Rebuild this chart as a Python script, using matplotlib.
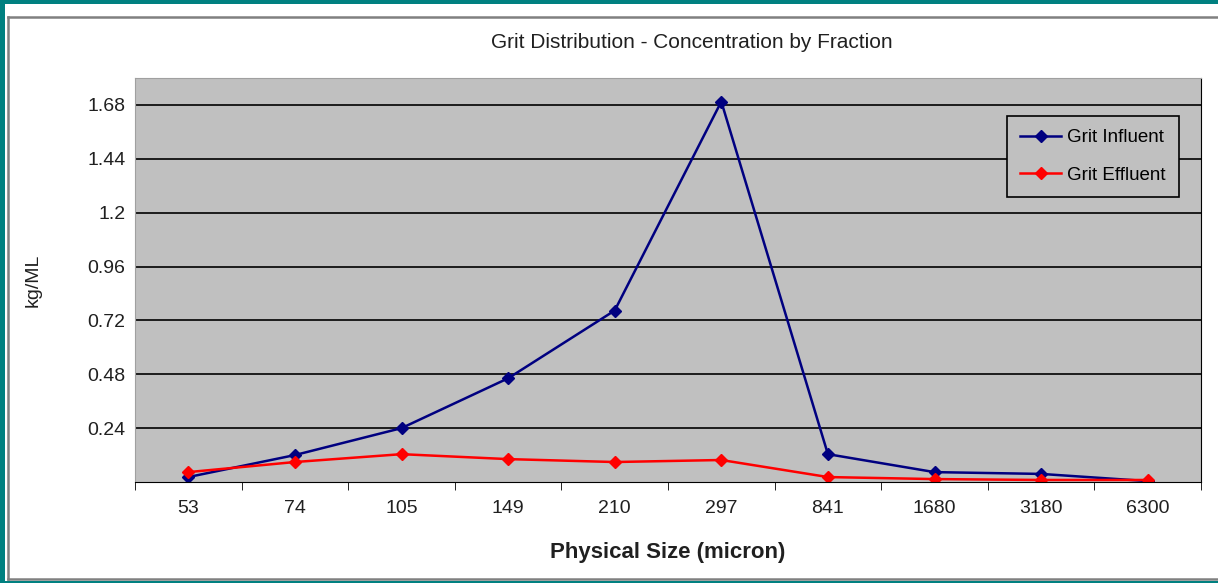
import matplotlib
matplotlib.use("Agg")
import matplotlib.pyplot as plt
import matplotlib.patches as patches
from matplotlib.lines import Line2D

plt.rcParams['font.family'] = ['Liberation Sans', 'DejaVu Sans']

# Veriler
sizes = ["53", "74", "105", "149", "210", "297", "841", "1680", "3180", "6300"]
influent = [0.022, 0.12, 0.24, 0.462, 0.764, 1.695, 0.124, 0.044, 0.036, 0.004]
effluent = [0.044, 0.089, 0.124, 0.102, 0.089, 0.098, 0.022, 0.013, 0.009, 0.009]
yticks = [0.24, 0.48, 0.72, 0.96, 1.2, 1.44, 1.68]

W, H = 1218, 583
fig = plt.figure(figsize=(W / 100, H / 100), dpi=100, facecolor='#008080')

# beyaz zemin + ince gri çerçeve (sağ kenar kırpılmış)
fig.patches.append(patches.Rectangle((5 / W, 2 / H), 1220 / W, 577 / H,
                                     transform=fig.transFigure, facecolor='white',
                                     edgecolor='none', zorder=-2))
for xs, ys in [((8, 1218), (566, 566)), ((8, 1218), (4, 4)), ((8, 8), (4, 566))]:
    fig.lines.append(Line2D([v / W for v in xs], [v / H for v in ys],
                            transform=fig.transFigure, color='#808080',
                            linewidth=1.8, zorder=-1))

ax = fig.add_axes([135 / W, 1 - 482 / H, (1201 - 135) / W, (482 - 78) / H])
ax.set_zorder(2)
ax.set_facecolor('#C0C0C0')

x = list(range(len(sizes)))
ax.plot(x, influent, color='#000080', marker='D', markersize=6, linewidth=1.8,
        label='Grit Influent')
ax.plot(x, effluent, color='#FF0000', marker='D', markersize=6, linewidth=1.8,
        label='Grit Effluent')

ax.set_xlim(-0.5, len(sizes) - 0.5)
ax.set_ylim(0, 1.80)
ax.set_yticks(yticks)
ax.set_yticklabels([f"{v:g}" for v in yticks], fontsize=14, color='#202020')
ax.yaxis.grid(True, color='black', linewidth=1.2)
ax.set_axisbelow(True)

ax.set_xticks(x)
ax.set_xticklabels(sizes, fontsize=14, color='#202020')
ax.set_xticks([i - 0.5 for i in range(len(sizes) + 1)], minor=True)
ax.tick_params(axis='x', which='major', length=0, pad=13)
ax.tick_params(axis='x', which='minor', length=6, direction='out', color='black')
ax.tick_params(axis='y', length=0, pad=7)

ax.spines['top'].set_color('#A0A0A0')
ax.spines['left'].set_color('#A0A0A0')
ax.spines['right'].set_color('black')
ax.spines['bottom'].set_color('black')

ax.set_xlabel('Physical Size (micron)', fontsize=16, fontweight='bold', labelpad=18,
              color='#202020')
ax.set_ylabel('kg/ML', fontsize=14, labelpad=33, color='#202020')
fig.text(692 / W, 1 - 42 / H, 'Grit Distribution - Concentration by Fraction',
         ha='center', va='center', fontsize=15, color='#202020')

leg = ax.legend(loc='upper right', bbox_to_anchor=(0.979, 0.906), borderaxespad=0,
                fontsize=13.5, frameon=True, fancybox=False, facecolor='#C0C0C0',
                edgecolor='black', framealpha=1, handlelength=2.2, handletextpad=0.3,
                borderpad=0.7, labelspacing=1.1)
leg.get_frame().set_linewidth(1.2)

fig.savefig('out.png', dpi=100, facecolor=fig.get_facecolor())
